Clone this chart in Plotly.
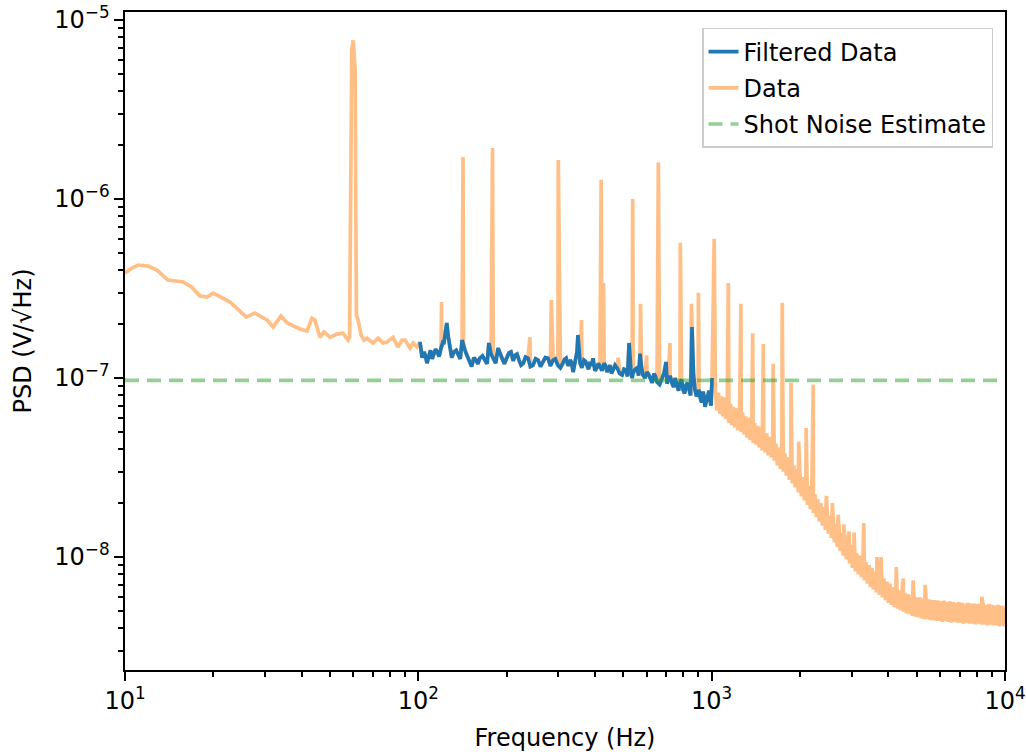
import plotly.graph_objects as go

# ---------------- data ----------------
# Low-frequency part of the raw data (includes the 60 Hz line)
lf_freq = [10.0, 10.56, 11.1, 12.0, 12.85, 14.0, 15.8, 16.9, 18.0, 19.0, 20.0, 22.8, 25.9, 27.7,
           30.5, 32.0, 34.0, 35.7, 39.5, 41.7, 43.4, 44.4, 46.2, 47.7, 50.0, 52.8, 55.4, 57.6,
           58.3, 59.3, 60.0, 60.9, 61.5, 62.3, 63.8, 65.3, 66.8, 70.1, 72.9, 75.8, 78.2, 82.0,
           85.2, 88.0, 90.1, 93.7, 96.0, 99.0]
lf_psd = [3.86e-7, 4.12e-7, 4.28e-7, 4.22e-7, 4.01e-7, 3.53e-7, 3.44e-7, 3.22e-7, 2.87e-7, 2.83e-7,
          2.98e-7, 2.66e-7, 2.19e-7, 2.31e-7, 2.11e-7, 1.93e-7, 2.22e-7, 2.03e-7, 1.88e-7, 1.83e-7,
          2.16e-7, 2.11e-7, 1.69e-7, 1.81e-7, 1.69e-7, 1.76e-7, 1.78e-7, 1.63e-7, 1.70e-7, 6.8e-6,
          7.7e-6, 5.2e-6, 2.25e-7, 2.11e-7, 1.74e-7, 1.63e-7, 1.67e-7, 1.57e-7, 1.67e-7, 1.57e-7,
          1.59e-7, 1.69e-7, 1.49e-7, 1.63e-7, 1.63e-7, 1.47e-7, 1.57e-7, 1.49e-7]

# Filtered data (100 Hz - 1 kHz), main samples ...
filt_a_freq = [101.3, 104.6, 107, 110, 113.1, 116, 119.5, 121, 123.3, 125,
               128, 132.3, 137, 141, 144.3, 147, 152, 157.3, 162, 169,
               174, 180, 187, 193, 200, 207, 214, 220.5, 228, 236.6,
               246, 256, 266, 276.7, 288, 299, 311, 319, 329, 337,
               345, 350, 356, 367, 376, 385, 394, 406, 416, 430,
               440, 450, 461, 476, 495, 510, 523, 531, 540, 557,
               570, 583, 602, 617, 636, 651, 678, 699, 710, 733,
               750, 762, 780, 799, 818, 838, 857, 877, 899, 913,
               935, 949, 972, 987, 1003]
filt_a_psd = [1.59e-7, 1.40e-7, 1.21e-7, 1.43e-7, 1.36e-7, 1.40e-7, 1.47e-7, 1.57e-7, 1.74e-7, 2.03e-7,
              1.49e-7, 1.40e-7, 1.34e-7, 1.63e-7, 1.43e-7, 1.31e-7, 1.16e-7, 1.26e-7, 1.29e-7, 1.26e-7,
              1.57e-7, 1.29e-7, 1.47e-7, 1.29e-7, 1.31e-7, 1.40e-7, 1.34e-7, 1.26e-7, 1.21e-7, 1.29e-7,
              1.18e-7, 1.26e-7, 1.23e-7, 1.29e-7, 1.26e-7, 1.18e-7, 1.21e-7, 1.29e-7, 1.26e-7, 1.08e-7,
              1.29e-7, 1.74e-7, 1.21e-7, 1.26e-7, 1.16e-7, 1.23e-7, 1.29e-7, 1.14e-7, 1.16e-7, 1.21e-7,
              1.08e-7, 1.18e-7, 1.11e-7, 1.14e-7, 1.04e-7, 1.11e-7, 1.57e-7, 1.08e-7, 1.07e-7, 1.14e-7,
              1.37e-7, 1.04e-7, 1.08e-7, 1.00e-7, 1.06e-7, 9.5e-8, 1.0e-7, 1.23e-7, 9.75e-8, 9.3e-8,
              1.0e-7, 8.9e-8, 9.4e-8, 8.6e-8, 9.14e-8, 8.57e-8, 1.93e-7, 8.6e-8, 8.2e-8, 7.8e-8,
              8.4e-8, 6.9e-8, 8.0e-8, 7.54e-8, 1.0e-7]
# ... and the samples lying between them (noise jitter)
filt_b_freq = [103, 105.8, 108.5, 111.5, 114.5, 117.7, 120.2, 122.1, 124.1, 126.5,
               130, 134.6, 139, 142.6, 145.6, 149.5, 154.6, 159.6, 165.5, 171.5,
               177, 183.5, 190, 196.5, 203.5, 210.5, 217, 224, 232, 241,
               251, 261, 271, 282, 293, 305, 315, 324, 333, 341,
               347.5, 353, 361, 371.5, 380.5, 389.5, 400, 411, 423, 435,
               445, 455.5, 468.5, 485.5, 502.5, 516.5, 527, 535.5, 548.5, 563.5,
               576.5, 592.5, 609.5, 626.5, 643.5, 664.5, 688.5, 704.5, 721.5, 741.5,
               756, 771, 789.5, 808.5, 828, 847.5, 867, 888, 906, 924,
               942, 960.5, 979.5, 995]
filt_b_psd = [1.30e-7, 1.33e-7, 1.35e-7, 1.28e-7, 1.45e-7, 1.32e-7, 1.50e-7, 1.55e-7, 1.85e-7, 1.70e-7,
              1.30e-7, 1.43e-7, 1.28e-7, 1.50e-7, 1.37e-7, 1.24e-7, 1.30e-7, 1.20e-7, 1.33e-7, 1.20e-7,
              1.36e-7, 1.21e-7, 1.35e-7, 1.20e-7, 1.38e-7, 1.25e-7, 1.36e-7, 1.18e-7, 1.31e-7, 1.16e-7,
              1.28e-7, 1.16e-7, 1.30e-7, 1.17e-7, 1.28e-7, 1.14e-7, 1.27e-7, 1.17e-7, 1.22e-7, 1.20e-7,
              1.40e-7, 1.32e-7, 1.14e-7, 1.24e-7, 1.12e-7, 1.17e-7, 1.10e-7, 1.21e-7, 1.10e-7, 1.17e-7,
              1.12e-7, 1.06e-7, 1.18e-7, 1.06e-7, 1.12e-7, 1.02e-7, 1.25e-7, 1.00e-7, 1.12e-7, 1.03e-7,
              1.15e-7, 1.00e-7, 1.05e-7, 9.4e-8, 1.02e-7, 9.2e-8, 1.07e-7, 9.3e-8, 1.03e-7, 8.9e-8,
              9.6e-8, 8.5e-8, 9.8e-8, 8.2e-8, 9.4e-8, 8.0e-8, 1.05e-7, 7.9e-8, 8.6e-8, 7.3e-8,
              7.9e-8, 7.4e-8, 8.5e-8, 7.0e-8]

# High-frequency raw data above 1 kHz: upper excursions of the noisy band ...
hf_hi_freq = [1030, 1055, 1080, 1105, 1130, 1160, 1185, 1215, 1245, 1275,
              1305, 1335, 1370, 1400, 1435, 1470, 1505, 1540, 1580, 1615,
              1655, 1695, 1735, 1775, 1820, 1860, 1905, 1950, 2000, 2045,
              2095, 2145, 2195, 2250, 2300, 2355, 2415, 2470, 2530, 2590,
              2650, 2715, 2780, 2845, 2915, 2985, 3055, 3125, 3200, 3280,
              3355, 3435, 3520, 3600, 3690, 3775, 3865, 3960, 4055, 4150,
              4250, 4350, 4455, 4560, 4670, 4780, 4895, 5010, 5130, 5255,
              5380, 5505, 5640, 5775, 5910, 6050, 6195, 6345, 6495, 6650,
              6810, 6970, 7140, 7310, 7480, 7660, 7845, 8030, 8225, 8420,
              8620, 8825, 9040, 9255, 9475, 9700, 9930, 10000]
hf_hi_psd = [8.4e-8, 8.3e-8, 7.9e-8, 7.8e-8, 7.3e-8, 7.2e-8, 6.9e-8, 6.8e-8, 6.5e-8, 6.4e-8,
             6.1e-8, 6.0e-8, 5.6e-8, 5.6e-8, 5.4e-8, 5.3e-8, 5.0e-8, 4.9e-8, 4.7e-8, 4.6e-8,
             4.3e-8, 4.1e-8, 3.95e-8, 3.8e-8, 3.6e-8, 3.45e-8, 3.25e-8, 3.1e-8, 2.9e-8, 2.8e-8,
             2.6e-8, 2.5e-8, 2.35e-8, 2.25e-8, 2.1e-8, 2.0e-8, 1.9e-8, 1.8e-8, 1.7e-8, 1.62e-8,
             1.53e-8, 1.45e-8, 1.36e-8, 1.3e-8, 1.22e-8, 1.17e-8, 1.1e-8, 1.05e-8, 1.02e-8, 9.8e-9,
             9.4e-9, 9.0e-9, 8.7e-9, 8.3e-9, 8.1e-9, 7.9e-9, 7.6e-9, 7.3e-9, 7.1e-9, 6.8e-9,
             6.7e-9, 6.5e-9, 6.45e-9, 6.3e-9, 6.2e-9, 6.1e-9, 6.05e-9, 5.95e-9, 5.95e-9, 5.85e-9,
             5.8e-9, 5.8e-9, 5.75e-9, 5.75e-9, 5.7e-9, 5.65e-9, 5.7e-9, 5.6e-9, 5.65e-9, 5.6e-9,
             5.55e-9, 5.6e-9, 5.55e-9, 5.5e-9, 5.55e-9, 5.5e-9, 5.5e-9, 5.45e-9, 5.5e-9, 5.45e-9,
             5.4e-9, 5.45e-9, 5.4e-9, 5.35e-9, 5.4e-9, 5.35e-9, 5.3e-9, 5.3e-9]
# ... and lower excursions of the noisy band
hf_lo_freq = [1042, 1067, 1092, 1117, 1145, 1172, 1200, 1230, 1261, 1290,
              1320, 1352, 1385, 1417, 1452, 1487, 1522, 1560, 1597, 1635,
              1675, 1715, 1755, 1797, 1840, 1882, 1927, 1975, 2022, 2070,
              2120, 2170, 2222, 2275, 2327, 2385, 2442, 2500, 2560, 2620,
              2682, 2747, 2812, 2880, 2950, 3020, 3090, 3162, 3240, 3317,
              3395, 3477, 3560, 3645, 3732, 3820, 3912, 4007, 4102, 4200,
              4300, 4402, 4507, 4615, 4725, 4837, 4952, 5070, 5192, 5317,
              5442, 5572, 5707, 5842, 5980, 6122, 6270, 6420, 6572, 6730,
              6890, 7055, 7225, 7395, 7570, 7752, 7937, 8127, 8322, 8520,
              8722, 8932, 9147, 9365, 9587, 9815, 9965]
hf_lo_psd = [6.6e-8, 6.3e-8, 6.1e-8, 5.9e-8, 5.6e-8, 5.45e-8, 5.3e-8, 5.1e-8, 5.0e-8, 4.85e-8,
             4.65e-8, 4.5e-8, 4.35e-8, 4.25e-8, 4.1e-8, 3.95e-8, 3.85e-8, 3.7e-8, 3.6e-8, 3.45e-8,
             3.25e-8, 3.1e-8, 3.0e-8, 2.85e-8, 2.7e-8, 2.58e-8, 2.45e-8, 2.3e-8, 2.18e-8, 2.07e-8,
             1.96e-8, 1.85e-8, 1.76e-8, 1.67e-8, 1.58e-8, 1.5e-8, 1.42e-8, 1.35e-8, 1.28e-8, 1.21e-8,
             1.14e-8, 1.08e-8, 1.02e-8, 9.7e-9, 9.2e-9, 8.7e-9, 8.3e-9, 8.0e-9, 7.7e-9, 7.4e-9,
             7.1e-9, 6.8e-9, 6.6e-9, 6.35e-9, 6.15e-9, 5.95e-9, 5.75e-9, 5.55e-9, 5.4e-9, 5.25e-9,
             5.15e-9, 5.05e-9, 4.95e-9, 4.85e-9, 4.8e-9, 4.7e-9, 4.65e-9, 4.6e-9, 4.55e-9, 4.5e-9,
             4.5e-9, 4.45e-9, 4.45e-9, 4.4e-9, 4.4e-9, 4.35e-9, 4.4e-9, 4.35e-9, 4.3e-9, 4.35e-9,
             4.3e-9, 4.3e-9, 4.25e-9, 4.3e-9, 4.25e-9, 4.25e-9, 4.2e-9, 4.25e-9, 4.2e-9, 4.2e-9,
             4.15e-9, 4.2e-9, 4.15e-9, 4.15e-9, 4.1e-9, 4.15e-9, 4.1e-9]

# Narrow spectral lines present in the raw data (frequency, peak)
line_freq = [120, 142, 179, 240, 284, 300, 360, 420, 428, 480, 538, 572, 600, 658, 721, 782, 853, 901,
             1020, 1140, 1258, 1380, 1500, 1620, 1740, 1865, 1980, 2100, 2220, 2460, 2580, 2700,
             2820, 2940, 3060, 3300, 3660, 3780, 4260, 4500, 4860, 5340, 8340]
line_peak = [2.66e-7, 1.72e-6, 1.93e-6, 1.69e-7, 2.73e-7, 1.65e-6, 2.11e-7, 1.28e-6, 3.4e-7, 1.3e-7,
             1.0e-6, 2.6e-7, 1.34e-7, 1.6e-6, 1.57e-7, 5.7e-7, 2.6e-7, 3.0e-7,
             6.0e-7, 3.4e-7, 2.6e-7, 1.78e-7, 1.55e-7, 1.2e-7, 2.63e-7, 9.4e-8, 4.4e-8, 5.26e-8,
             9.2e-8, 2.2e-8, 2.0e-8, 1.72e-8, 1.52e-8, 1.39e-8, 1.37e-8, 1.55e-8, 1.0e-8, 1.0e-8,
             8.8e-9, 7.6e-9, 7.4e-9, 7.0e-9, 6.0e-9]

shot_noise_level = 9.7e-8
x_span = [10, 10000]

x_tick_vals = [10, 100, 1000, 10000]
x_tick_text = ["10<sup>1</sup>", "10<sup>2</sup>", "10<sup>3</sup>", "10<sup>4</sup>"]
y_tick_vals = [1e-8, 1e-7, 1e-6, 1e-5]
y_tick_text = ["10<sup>\u22128</sup>", "10<sup>\u22127</sup>", "10<sup>\u22126</sup>", "10<sup>\u22125</sup>"]

# ---------------- build series ----------------
filt_pairs = sorted(list(zip(filt_a_freq, filt_a_psd)) + list(zip(filt_b_freq, filt_b_psd)))
filt_freq = [p[0] for p in filt_pairs]
filt_psd = [p[1] for p in filt_pairs]

pairs = sorted(list(zip(lf_freq, lf_psd)) + filt_pairs
               + list(zip(hf_hi_freq, hf_hi_psd)) + list(zip(hf_lo_freq, hf_lo_psd))
               + list(zip(line_freq, line_peak)))
data_freq = [p[0] for p in pairs]
data_psd = [p[1] for p in pairs]

x_minor = [m * 10 ** e for e in range(1, 4) for m in range(2, 10)]
y_minor = [m * 10.0 ** e for e in range(-9, -4) for m in range(2, 10)]

FONT = "DejaVu Sans"
fig = go.Figure()

fig.add_trace(go.Scatter(x=data_freq, y=data_psd, mode="lines", name="Data",
                         line=dict(color="rgba(255,127,14,0.5)", width=3.7),
                         legendrank=2, legendgroup="b"))
fig.add_trace(go.Scatter(x=filt_freq, y=filt_psd, mode="lines", name="Filtered Data",
                         line=dict(color="#1f77b4", width=3.7),
                         legendrank=1, legendgroup="a"))
fig.add_trace(go.Scatter(x=x_span, y=[shot_noise_level, shot_noise_level], mode="lines",
                         name="Shot Noise Estimate",
                         line=dict(color="rgba(44,160,44,0.5)", width=3.7, dash="14px,8px"),
                         legendrank=3, legendgroup="c"))

axis_common = dict(
    type="log", showgrid=False, zeroline=False, automargin=False,
    showline=True, linecolor="black", linewidth=2, mirror=True,
    ticks="outside", ticklen=8.6, tickwidth=2, tickcolor="black",
    tickfont=dict(family=FONT, size=24, color="black"),
    tickmode="array",
)

fig.update_layout(
    width=1026, height=752,
    margin=dict(l=125, r=21, t=12, b=82),
    paper_bgcolor="white", plot_bgcolor="white",
    font=dict(family=FONT, size=24, color="black"),
    showlegend=True,
    legend=dict(x=0.9864, xanchor="right", y=0.9757, yanchor="top",
                bgcolor="rgba(255,255,255,0.8)", bordercolor="#cccccc", borderwidth=1.5,
                font=dict(family=FONT, size=24, color="black"),
                tracegroupgap=2, traceorder="grouped"),
    xaxis=dict(**axis_common, range=[1, 4], tickvals=x_tick_vals, ticktext=x_tick_text,
               minor=dict(ticks="outside", ticklen=5, tickwidth=1.5, tickcolor="black",
                          tickvals=x_minor, showgrid=False),
               title=dict(text="Frequency (Hz)", font=dict(family=FONT, size=24), standoff=16)),
    yaxis=dict(**axis_common, range=[-8.631, -4.955], tickvals=y_tick_vals, ticktext=y_tick_text,
               minor=dict(ticks="outside", ticklen=5, tickwidth=1.5, tickcolor="black",
                          tickvals=y_minor, showgrid=False),
               title=dict(text="PSD (V/\u221aHz)", font=dict(family=FONT, size=24), standoff=16)),
)

fig.write_html("out.html",
               config={"displayModeBar": False},
               post_script="document.body.style.margin='0px';document.body.style.overflow='hidden';")
